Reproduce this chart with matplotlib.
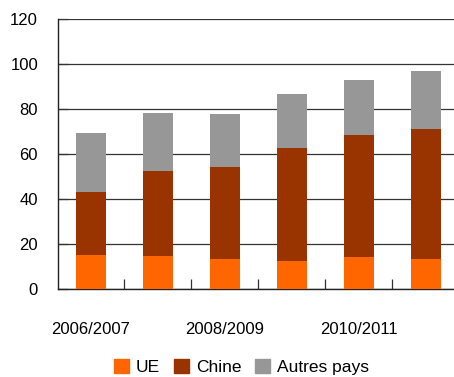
import matplotlib
matplotlib.use("Agg")
import matplotlib.pyplot as plt
from matplotlib.patches import Patch

plt.rcParams['font.family'] = ['Liberation Sans', 'DejaVu Sans']

campagnes = ['2006/2007', '2007/2008', '2008/2009', '2009/2010', '2010/2011', '2011/2012']
ue = [15.1, 14.8, 13.5, 12.6, 14.4, 13.5]
chine = [28.0, 37.6, 40.6, 49.9, 54.0, 57.5]
autres = [26.1, 26.0, 23.5, 24.3, 24.3, 25.9]

c_ue = '#ff6600'
c_chine = '#993300'
c_autres = '#979797'

fig = plt.figure(figsize=(4.54, 3.77), dpi=100)
ax = fig.add_axes([0.1267, 0.2334, 0.8733, 0.7162])

x = list(range(len(campagnes)))
base2 = [a + b for a, b in zip(ue, chine)]
ax.bar(x, ue, width=0.45, color=c_ue, zorder=3)
ax.bar(x, chine, width=0.45, bottom=ue, color=c_chine, zorder=3)
ax.bar(x, autres, width=0.45, bottom=base2, color=c_autres, zorder=3)

ax.set_ylim(0, 120)
ax.set_xlim(-0.5, 5.42)
ax.set_yticks(range(0, 121, 20))
ax.yaxis.grid(True, color='#333333', linewidth=0.9, zorder=0)
ax.set_axisbelow(True)

# tick marks between campaigns, labels on every other campaign
ax.set_xticks([0.5, 1.5, 2.5, 3.5, 4.5])
ax.set_xticklabels([])
ax.set_xticks([0, 2, 4], minor=True)
ax.set_xticklabels([campagnes[i] for i in (0, 2, 4)], minor=True, fontsize=12)
ax.tick_params(axis='x', which='major', direction='in', length=7, width=0.9, color='#333333')
ax.tick_params(axis='x', which='minor', length=0, pad=24)
ax.tick_params(axis='y', direction='in', length=7, width=0.9, color='#333333', labelsize=12, pad=14)

for side in ('top', 'right'):
    ax.spines[side].set_visible(False)
for side in ('left', 'bottom'):
    ax.spines[side].set_color('#222222')
    ax.spines[side].set_linewidth(1.0)

handles = [Patch(color=c_ue, label='UE'),
           Patch(color=c_chine, label='Chine'),
           Patch(color=c_autres, label='Autres pays')]
fig.legend(handles=handles, loc='center', bbox_to_anchor=(0.532, 0.027), ncol=3,
           frameon=False, fontsize=12.5, handlelength=0.85, handleheight=0.85,
           handletextpad=0.4, columnspacing=0.8)

fig.savefig('out.png', dpi=100)
